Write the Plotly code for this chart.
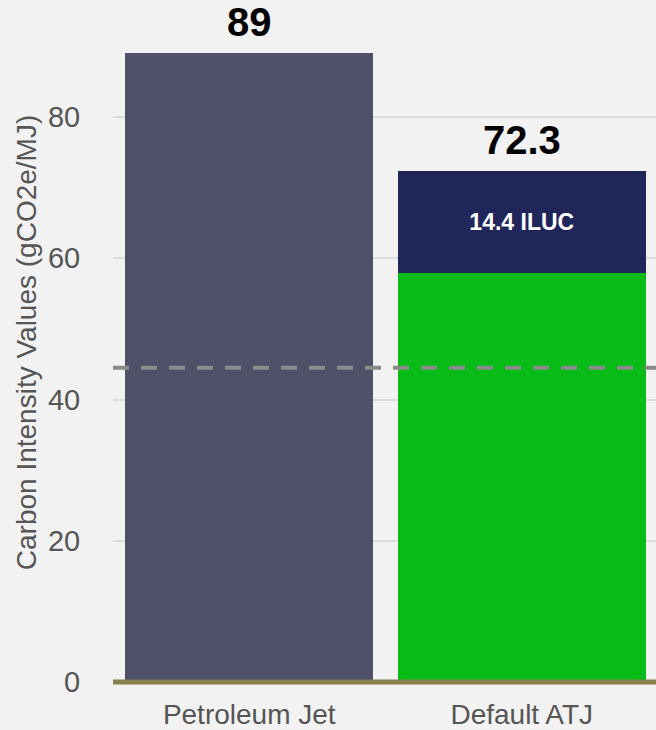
import plotly.graph_objects as go

# Carbon intensity data (gCO2e/MJ)
categories = ["Petroleum Jet", "Default ATJ"]
petroleum_ci = [89, None]
atj_core_ci = [None, 57.9]
atj_iluc_ci = [None, 14.4]
reduction_threshold = 44.5
y_ticks = [0, 20, 40, 60, 80]

totals = [
    sum(v for v in (p, c, i) if v is not None)
    for p, c, i in zip(petroleum_ci, atj_core_ci, atj_iluc_ci)
]

BG = "#F2F2F2"
TICK_COLOR = "#555555"
FONT = "Liberation Sans, Arial, sans-serif"

fig = go.Figure()
fig.add_trace(go.Bar(x=categories, y=petroleum_ci, marker_color="#4F5168",
                     marker_line_width=0, name="Petroleum"))
fig.add_trace(go.Bar(x=categories, y=atj_core_ci, marker_color="#08BB17",
                     marker_line_width=0, name="Core"))
fig.add_trace(go.Bar(
    x=categories, y=atj_iluc_ci, marker_color="#20265A", marker_line_width=0,
    name="ILUC",
    text=[None if v is None else f"{v:g} ILUC" for v in atj_iluc_ci],
    textposition="inside", insidetextanchor="middle", textangle=0,
    textfont=dict(family=FONT, size=23, color="white", weight="bold"),
))

# Total value labels above each bar
for cat, tot in zip(categories, totals):
    fig.add_annotation(
        x=cat, y=tot, text=f"<b>{tot:g}</b>", showarrow=False,
        yanchor="bottom", yshift=7,
        font=dict(family=FONT, size=40, color="black"),
    )

# 50% reduction threshold
fig.add_shape(type="line", xref="paper", x0=0, x1=1,
              y0=reduction_threshold, y1=reduction_threshold,
              line=dict(color="#8A8A8A", width=4, dash="16px,12px"),
              layer="above")
# Baseline
fig.add_shape(type="line", xref="paper", x0=0, x1=1, y0=0, y1=0,
              line=dict(color="#8B7F4B", width=5), layer="above")

fig.update_layout(
    width=656, height=730,
    margin=dict(l=113, r=0, t=0, b=45),
    paper_bgcolor=BG, plot_bgcolor=BG,
    barmode="stack", bargap=0.091,
    showlegend=False,
    font=dict(family=FONT, color=TICK_COLOR),
    xaxis=dict(
        range=[-0.5, 1.4927], showgrid=False, zeroline=False,
        automargin=False,
        ticks="outside", ticklen=4, tickcolor="rgba(0,0,0,0)",
        tickfont=dict(size=28, color=TICK_COLOR),
    ),
    yaxis=dict(
        range=[-0.42, 96.57], tickvals=y_ticks, showgrid=True,
        gridcolor="#DCDCDC", gridwidth=2, zeroline=False,
        automargin=False,
        ticks="outside", ticklen=26, tickcolor="rgba(0,0,0,0)",
        tickfont=dict(size=29, color=TICK_COLOR),
        title=dict(text="Carbon Intensity Values (gCO2e/MJ)",
                   font=dict(size=28, color=TICK_COLOR), standoff=3),
    ),
)

fig.write_html("out.html")
